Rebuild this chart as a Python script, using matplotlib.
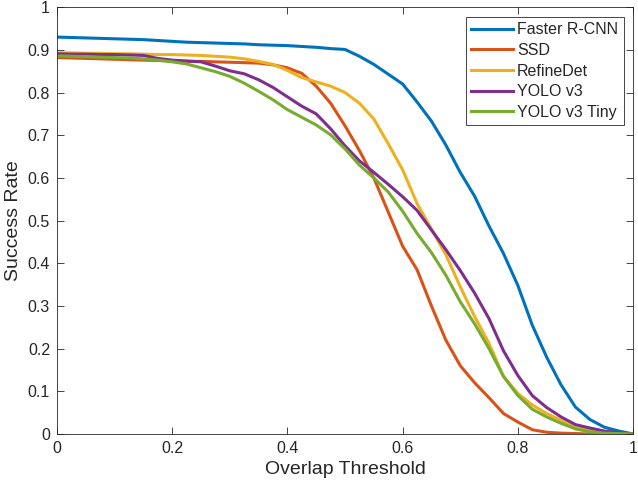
import numpy as np
import matplotlib
matplotlib.use("Agg")
import matplotlib.pyplot as plt

plt.rcParams['font.family'] = ['Liberation Sans', 'DejaVu Sans']

# overlap threshold grid
x = np.linspace(0, 1, 41)

faster_rcnn = [0.930, 0.929, 0.928, 0.927, 0.926, 0.925, 0.924, 0.922, 0.920, 0.918,
               0.917, 0.916, 0.915, 0.914, 0.912, 0.911, 0.910, 0.908, 0.906, 0.903,
               0.901, 0.885, 0.866, 0.843, 0.820, 0.778, 0.733, 0.677, 0.613, 0.557,
               0.487, 0.423, 0.348, 0.255, 0.180, 0.115, 0.063, 0.034, 0.016, 0.007, 0.0]
ssd = [0.882, 0.881, 0.880, 0.879, 0.878, 0.877, 0.876, 0.875, 0.874, 0.873,
       0.873, 0.872, 0.871, 0.870, 0.869, 0.865, 0.858, 0.845, 0.815, 0.775,
       0.722, 0.664, 0.600, 0.520, 0.440, 0.385, 0.300, 0.220, 0.160, 0.120,
       0.085, 0.048, 0.028, 0.010, 0.004, 0.002, 0.001, 0.0, 0.0, 0.0, 0.0]
refinedet = [0.893, 0.893, 0.892, 0.892, 0.891, 0.891, 0.890, 0.889, 0.889, 0.888,
             0.887, 0.885, 0.883, 0.879, 0.873, 0.866, 0.852, 0.835, 0.825, 0.815,
             0.800, 0.775, 0.738, 0.680, 0.619, 0.540, 0.480, 0.420, 0.345, 0.275,
             0.212, 0.135, 0.095, 0.068, 0.048, 0.032, 0.015, 0.009, 0.005, 0.002, 0.0]
yolo_v3 = [0.891, 0.890, 0.890, 0.889, 0.889, 0.888, 0.887, 0.880, 0.876, 0.874,
           0.872, 0.862, 0.851, 0.844, 0.830, 0.812, 0.790, 0.768, 0.750, 0.715,
           0.675, 0.640, 0.613, 0.585, 0.556, 0.524, 0.478, 0.432, 0.383, 0.330,
           0.270, 0.195, 0.137, 0.090, 0.062, 0.040, 0.022, 0.014, 0.007, 0.003, 0.0]
yolo_v3_tiny = [0.886, 0.885, 0.884, 0.883, 0.882, 0.881, 0.879, 0.876, 0.872, 0.867,
                0.858, 0.849, 0.838, 0.822, 0.803, 0.783, 0.760, 0.742, 0.724, 0.701,
                0.668, 0.630, 0.600, 0.567, 0.522, 0.470, 0.425, 0.372, 0.310, 0.258,
                0.200, 0.135, 0.090, 0.058, 0.040, 0.025, 0.012, 0.005, 0.002, 0.001, 0.0]

labels = ['Faster R-CNN', 'SSD', 'RefineDet', 'YOLO v3', 'YOLO v3 Tiny']
colors = ['#0072BD', '#D95319', '#EDB120', '#7E2F8E', '#77AC30']
series = [faster_rcnn, ssd, refinedet, yolo_v3, yolo_v3_tiny]

fig = plt.figure(figsize=(6.38, 4.90), dpi=100)
ax = fig.add_axes([0.0893, 0.1143, 0.903, 0.871])

for y, c, lab in zip(series, colors, labels):
    ax.plot(x, y, color=c, lw=2.2, label=lab)

ax.set_xlim(0, 1)
ax.set_ylim(0, 1)
ax.set_xticks(np.arange(0, 1.01, 0.2))
ax.set_yticks(np.arange(0, 1.01, 0.1))
ax.set_xticklabels(['0', '0.2', '0.4', '0.6', '0.8', '1'])
ax.set_yticklabels(['0', '0.1', '0.2', '0.3', '0.4', '0.5', '0.6', '0.7', '0.8', '0.9', '1'])
ax.tick_params(direction='in', length=5, width=0.6, top=True, right=True,
               labelsize=11.5, colors='#262626', pad=5)
for s in ax.spines.values():
    s.set_color('#262626')
    s.set_linewidth(0.6)

ax.set_xlabel('Overlap Threshold', fontsize=14, color='#262626', labelpad=4)
ax.set_ylabel('Success Rate', fontsize=14, color='#262626', labelpad=4)

leg = ax.legend(loc='upper right', fontsize=11.5, handlelength=2.6, handletextpad=0.25,
                labelspacing=0.35, borderpad=0.35, fancybox=False, framealpha=1,
                borderaxespad=0.6)
leg.get_frame().set_edgecolor('#262626')
leg.get_frame().set_linewidth(0.6)
for t in leg.get_texts():
    t.set_color('#262626')

fig.savefig('out.png', dpi=100)
